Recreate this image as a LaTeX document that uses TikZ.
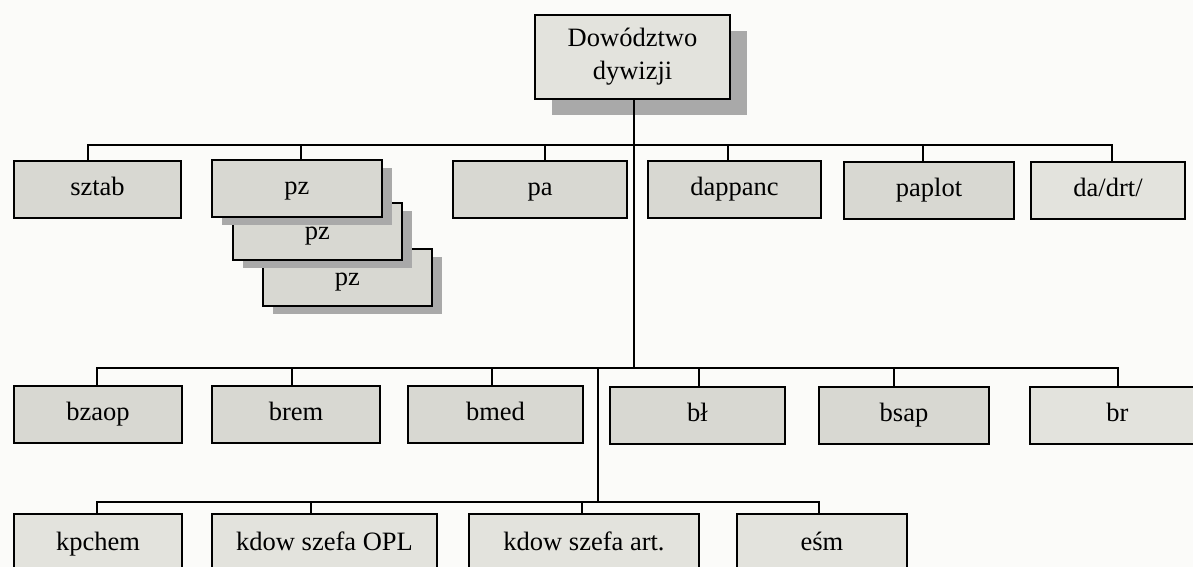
\documentclass[tikz,border=0pt]{standalone}
\usepackage{fontspec}
\setmainfont{Liberation Serif}
\usetikzlibrary{shadows}
\definecolor{paper}{HTML}{FBFBF9}
\definecolor{boxfill}{HTML}{D8D8D2}
\definecolor{boxlight}{HTML}{E3E3DD}
\definecolor{shadowgray}{HTML}{A9A9A9}
\begin{document}
\begin{tikzpicture}[x=1pt,y=-1pt,
  unit/.style={draw=black, line width=2pt, fill=boxfill, inner sep=0pt,
    font=\fontsize{26.5}{33}\selectfont, minimum height=57pt,
    text height=18pt, text depth=6pt},
  lightunit/.style={unit, fill=boxlight},
  stackshadow/.style={drop shadow={fill=shadowgray, opacity=1,
    shadow xshift=10pt, shadow yshift=-8pt}},
  link/.style={line width=1.5pt, line cap=rect}]

% page
\fill[paper] (0,0) rectangle (1193,567);
\useasboundingbox (0,0) rectangle (1193,567);

% division command
\node[unit, fill=boxlight, align=center, minimum width=195pt, minimum height=84pt,
  text height=, text depth=,
  drop shadow={fill=shadowgray, opacity=1, shadow xshift=17pt, shadow yshift=-16pt}]
  (cmd) at (632.5,57) {Dowództwo\\dywizji};

% first level (the pz stack is drawn back to front)
\node[unit, minimum width=167pt] (sztab) at (97.5,189.5) {sztab};
\node[unit, minimum width=169pt, stackshadow, text depth=2pt] (pzc) at (347.5,277) {pz};
\node[unit, minimum width=169pt, stackshadow, text depth=2pt] (pzb) at (317.5,231) {pz};
\node[unit, minimum width=170pt, stackshadow] (pza) at (297,188.5) {pz};
\node[unit, minimum width=174pt] (pa) at (540,189.5) {pa};
\node[unit, minimum width=173pt] (dappanc) at (734.5,189.5) {dappanc};
\node[unit, minimum width=170pt] (paplot) at (929,190) {paplot};
\node[lightunit, minimum width=154pt] (dadrt) at (1108,190) {da/drt/};

% second level
\node[unit, minimum width=168pt] (bzaop) at (98,414.5) {bzaop};
\node[unit, minimum width=168pt] (brem) at (296,414.5) {brem};
\node[unit, minimum width=175pt] (bmed) at (495.5,414.5) {bmed};
\node[unit, minimum width=175pt] (bl) at (697.5,415) {bł};
\node[unit, minimum width=170pt] (bsap) at (904,415) {bsap};
\node[lightunit, minimum width=175pt] (br) at (1117.5,415) {br};

% third level
\node[lightunit, minimum width=168pt, minimum height=60pt] (kpchem) at (98,544) {kpchem};
\node[lightunit, minimum width=225pt, minimum height=60pt] (kopl) at (324.5,544) {kdow szefa OPL};
\node[lightunit, minimum width=230pt, minimum height=60pt] (kart) at (584,544) {kdow szefa art.};
\node[lightunit, minimum width=170pt, minimum height=60pt] (esm) at (822,544) {eśm};

% bus bars
\coordinate (busA) at (634,145);
\coordinate (busB) at (634,368);
\coordinate (busC) at (598,502);

% trunk and branches
\draw[link] (cmd.south -| busA) -- (busB);
\draw[link] (busC |- busB) -- (busC);

\draw[link] ([xshift=-9.5pt]sztab.north |- busA) -- ([xshift=4pt]dadrt.north |- busA);
\draw[link] ([xshift=-9.5pt]sztab.north) -- ([xshift=-9.5pt]sztab.north |- busA);
\draw[link] ([xshift=4pt]pza.north) -- ([xshift=4pt]pza.north |- busA);
\draw[link] ([xshift=5pt]pa.north) -- ([xshift=5pt]pa.north |- busA);
\draw[link] ([xshift=-6.5pt]dappanc.north) -- ([xshift=-6.5pt]dappanc.north |- busA);
\draw[link] ([xshift=-6pt]paplot.north) -- ([xshift=-6pt]paplot.north |- busA);
\draw[link] ([xshift=4pt]dadrt.north) -- ([xshift=4pt]dadrt.north |- busA);

\draw[link] ([xshift=-1pt]bzaop.north |- busB) -- ([xshift=0.5pt]br.north |- busB);
\draw[link] ([xshift=-1pt]bzaop.north) -- ([xshift=-1pt]bzaop.north |- busB);
\draw[link] ([xshift=-4pt]brem.north) -- ([xshift=-4pt]brem.north |- busB);
\draw[link] ([xshift=-3.5pt]bmed.north) -- ([xshift=-3.5pt]bmed.north |- busB);
\draw[link] ([xshift=1.5pt]bl.north) -- ([xshift=1.5pt]bl.north |- busB);
\draw[link] ([xshift=-10pt]bsap.north) -- ([xshift=-10pt]bsap.north |- busB);
\draw[link] ([xshift=0.5pt]br.north) -- ([xshift=0.5pt]br.north |- busB);

\draw[link] ([xshift=-1pt]kpchem.north |- busC) -- ([xshift=-3pt]esm.north |- busC);
\draw[link] ([xshift=-1pt]kpchem.north) -- ([xshift=-1pt]kpchem.north |- busC);
\draw[link] ([xshift=-13.5pt]kopl.north) -- ([xshift=-13.5pt]kopl.north |- busC);
\draw[link] ([xshift=-2pt]kart.north) -- ([xshift=-2pt]kart.north |- busC);
\draw[link] ([xshift=-3pt]esm.north) -- ([xshift=-3pt]esm.north |- busC);
\end{tikzpicture}
\end{document}
